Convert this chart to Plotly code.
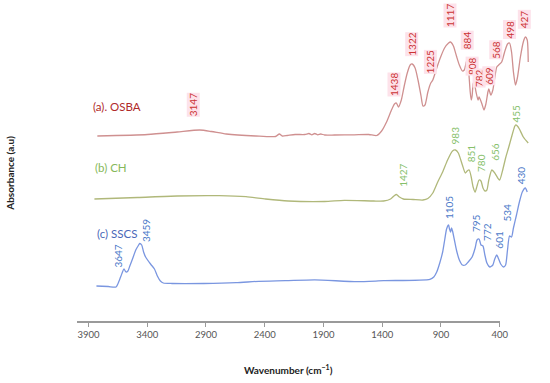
import plotly.graph_objects as go

# ---- spectra (wavenumber cm-1, absorbance a.u.) ----
osba_wn = [3830, 3433, 3199, 3020, 2927, 2810, 2577, 2421, 2390, 2367, 2328, 2265, 2188, 2156, 2133,
           2110, 2086, 2063, 2032, 1954, 1798, 1682, 1620, 1581, 1542, 1503, 1479, 1464, 1448, 1425,
           1402, 1378, 1355, 1339, 1316, 1293, 1269, 1254, 1238, 1215, 1192, 1176, 1145, 1114, 1083,
           1051, 1036, 1013, 989, 966, 942, 927, 911, 904, 896, 888, 880, 872, 865, 857, 849, 834,
           818, 810, 802, 787, 771, 756, 740, 733, 717, 701, 686, 670, 655, 631, 608, 585, 569,
           553, 538, 522, 507, 483, 460, 444, 429, 421]
osba_abs = [1.85, 1.865, 1.89, 1.91, 1.895, 1.87, 1.85, 1.845, 1.87, 1.85, 1.855, 1.865, 1.865, 1.875,
            1.862, 1.875, 1.862, 1.87, 1.86, 1.86, 1.862, 1.865, 1.855, 1.90, 1.99, 2.11, 2.17, 2.18,
            2.14, 2.21, 2.35, 2.48, 2.56, 2.57, 2.53, 2.41, 2.25, 2.15, 2.16, 2.29, 2.38, 2.41, 2.53,
            2.64, 2.73, 2.78, 2.79, 2.75, 2.65, 2.56, 2.50, 2.51, 2.59, 2.61, 2.57, 2.43, 2.29, 2.21,
            2.25, 2.37, 2.39, 2.29, 2.21, 2.24, 2.22, 2.17, 2.11, 2.17, 2.29, 2.32, 2.26, 2.31, 2.43,
            2.54, 2.56, 2.59, 2.69, 2.77, 2.78, 2.69, 2.49, 2.36, 2.43, 2.64, 2.79, 2.84, 2.81, 2.59]

ch_wn = [3853, 3511, 3199, 2865, 2654, 2499, 2320, 2032, 1876, 1643, 1565, 1510, 1479, 1464, 1440,
         1409, 1332, 1254, 1215, 1176, 1137, 1098, 1059, 1020, 997, 974, 942, 919, 904, 888, 872,
         857, 841, 826, 810, 795, 779, 763, 748, 733, 709, 686, 662, 647, 623, 600, 577, 553, 530,
         522, 507, 491, 460, 421]
ch_abs = [1.22, 1.235, 1.25, 1.253, 1.243, 1.22, 1.20, 1.195, 1.207, 1.20, 1.20, 1.22, 1.255, 1.265,
          1.24, 1.22, 1.215, 1.21, 1.225, 1.28, 1.39, 1.49, 1.61, 1.70, 1.71, 1.68, 1.56, 1.48, 1.50,
          1.51, 1.44, 1.34, 1.29, 1.35, 1.41, 1.40, 1.33, 1.30, 1.31, 1.41, 1.51, 1.48, 1.43, 1.41,
          1.51, 1.63, 1.73, 1.84, 1.94, 1.96, 1.95, 1.92, 1.84, 1.78]

sscs_wn = [3837, 3744, 3682, 3658, 3643, 3619, 3604, 3588, 3573, 3549, 3526, 3503, 3495, 3479, 3464,
           3448, 3409, 3378, 3355, 3331, 3308, 3238, 2989, 2732, 2553, 2343, 2110, 1775, 1565, 1199,
           1168, 1145, 1121, 1098, 1082, 1067, 1051, 1044, 1036, 1028, 1020, 1005, 989, 966, 942,
           919, 896, 865, 841, 826, 810, 802, 795, 779, 764, 748, 725, 701, 686, 670, 655, 639, 616,
           600, 585, 569, 553, 538, 514, 491, 468, 444, 429]
sscs_abs = [0.35, 0.345, 0.34, 0.40, 0.45, 0.52, 0.49, 0.50, 0.55, 0.63, 0.71, 0.76, 0.775, 0.76,
            0.69, 0.64, 0.57, 0.52, 0.45, 0.40, 0.38, 0.375, 0.375, 0.383, 0.397, 0.403, 0.412, 0.393,
            0.403, 0.417, 0.44, 0.49, 0.58, 0.69, 0.81, 0.92, 0.96, 0.92, 0.89, 0.93, 0.90, 0.81, 0.71,
            0.61, 0.56, 0.56, 0.59, 0.64, 0.73, 0.81, 0.82, 0.79, 0.76, 0.75, 0.66, 0.58, 0.54, 0.56,
            0.62, 0.66, 0.62, 0.57, 0.54, 0.56, 0.71, 0.85, 0.84, 0.93, 1.06, 1.19, 1.29, 1.33, 1.29]

# ---- peak labels: text, position on spectrum scale, label base height ----
osba_peaks = ["3147", "1438", "1322", "1225", "1117", "884", "808", "782", "609", "568", "498", "427"]
osba_peak_wn = [3075, 1487, 1347, 1199, 1044, 904, 865, 810, 733, 678, 569, 452]
osba_peak_y = [2.04, 2.24, 2.64, 2.47, 2.93, 2.71, 2.45, 2.33, 2.35, 2.61, 2.81, 2.92]

ch_peaks = ["1427", "983", "851", "780", "656", "455"]
ch_peak_wn = [1417, 997, 872, 795, 686, 514]
ch_peak_y = [1.33, 1.76, 1.58, 1.48, 1.59, 1.98]

sscs_peaks = ["3647", "3459", "1105", "795", "772", "601", "534", "430"]
sscs_peak_wn = [3674, 3448, 1051, 834, 748, 655, 592, 476]
sscs_peak_y = [0.52, 0.78, 1.01, 0.88, 0.79, 0.71, 0.98, 1.36]

series_names = ["(a). OSBA", "(b) CH", "(c) SSCS"]
name_wn = [3674, 3721, 3678]
name_y = [2.15, 1.54, 0.88]

x_ticks = [3900, 3400, 2900, 2400, 1900, 1400, 900, 400]

line_colors = ["#cf9090", "#b0b87a", "#7a96e0"]
label_colors = ["#cc3333", "#86c06a", "#4a78c8"]
name_colors = ["#b02a2a", "#86b85a", "#4a68b8"]

FONT = "Lato"

fig = go.Figure()
# invisible trace so that the labelled wavenumber axis is drawn
fig.add_trace(go.Scatter(x=[x_ticks[0], x_ticks[-1]], y=[None, None], xaxis="x", yaxis="y",
                         mode="lines", showlegend=False, hoverinfo="skip"))
for wn, ab, col in [(osba_wn, osba_abs, line_colors[0]),
                    (ch_wn, ch_abs, line_colors[1]),
                    (sscs_wn, sscs_abs, line_colors[2])]:
    fig.add_trace(go.Scatter(x=wn, y=ab, mode="lines", xaxis="x2", yaxis="y",
                             line=dict(color=col, width=1.3, shape="spline", smoothing=0.6),
                             showlegend=False, hoverinfo="skip"))

annotations = []
for texts, wns, ys, col, bg in [(osba_peaks, osba_peak_wn, osba_peak_y, label_colors[0], "#fde2ea"),
                                (ch_peaks, ch_peak_wn, ch_peak_y, label_colors[1], "rgba(0,0,0,0)"),
                                (sscs_peaks, sscs_peak_wn, sscs_peak_y, label_colors[2], "rgba(0,0,0,0)")]:
    for t, w, yv in zip(texts, wns, ys):
        annotations.append(dict(x=w, y=yv, xref="x2", yref="y", text=t, showarrow=False,
                                textangle=-90, xanchor="center", yanchor="bottom",
                                font=dict(family=FONT, size=10, color=col), bgcolor=bg,
                                borderpad=0))
for t, w, yv, col in zip(series_names, name_wn, name_y, name_colors):
    annotations.append(dict(x=w, y=yv, xref="x2", yref="y", text=t, showarrow=False,
                            xanchor="center", yanchor="middle",
                            font=dict(family=FONT, size=11.5, color=col)))
annotations.append(dict(x=0.018, y=0.461, xref="paper", yref="paper", text="<b>Absorbance (a.u)</b>",
                        showarrow=False, textangle=-90, xanchor="center", yanchor="middle",
                        font=dict(family=FONT, size=10, color="#222")))

fig.update_layout(
    width=550, height=383, autosize=False,
    margin=dict(l=0, r=0, t=0, b=62),
    paper_bgcolor="white", plot_bgcolor="white",
    xaxis=dict(domain=[78 / 550, 508 / 550], range=[4000, 400], tickvals=x_ticks,
               ticktext=[str(v) for v in x_ticks], showgrid=False, zeroline=False,
               showline=True, linecolor="#9a9a9a", linewidth=1.5, ticks="outside",
               ticklen=4, tickcolor="#9a9a9a", anchor="y",
               tickfont=dict(family=FONT, size=9.5, color="#555"),
               title=dict(text="<b>Wavenumber (cm<sup>−1</sup>)</b>", standoff=28,
                          font=dict(family=FONT, size=10, color="#222"))),
    xaxis2=dict(domain=[0, 1], range=[4600, 320], visible=False, anchor="y"),
    yaxis=dict(domain=[0, 1], range=[0, 3.21], visible=False),
    annotations=annotations,
)

fig.write_html("out.html", config={"displayModeBar": False, "responsive": False},
               post_script="document.body.style.margin='0';document.body.style.overflow='hidden';"
                           "document.documentElement.style.overflow='hidden';")
